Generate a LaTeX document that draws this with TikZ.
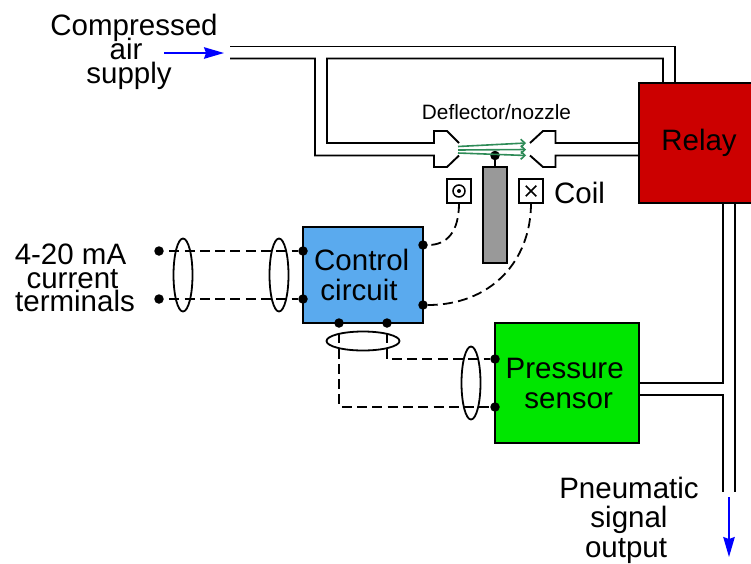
\documentclass[tikz,border=0pt]{standalone}
\usepackage{fontspec}
\setmainfont{Liberation Sans}
\usepackage{xcolor}
\usetikzlibrary{arrows.meta,shapes.geometric,shapes.misc}

\definecolor{relayred}{RGB}{204,0,0}
\definecolor{circuitblue}{RGB}{90,170,238}
\definecolor{sensorgreen}{RGB}{0,230,0}
\definecolor{jetgreen}{RGB}{46,139,87}

\newcommand{\tightlines}[1]{\fontsize{29.5}{#1}\selectfont\setlength{\lineskiplimit}{-50pt}}

\tikzset{
  pipe/.style={line width=1.9pt,line join=miter},
  block/.style={draw,line width=2.3pt,inner sep=0pt,align=center,font=\tightlines{30}},
  term/.style={circle,fill=black,inner sep=0pt,minimum size=9.5pt},
  wire/.style={line width=1.8pt,dash pattern=on 10pt off 5.3pt,dash phase=10pt},
  cable/.style={ellipse,draw,line width=1.8pt,inner sep=0pt,minimum width=19pt,minimum height=73pt},
  coilbox/.style={draw,line width=2.1pt,fill=white,minimum size=24pt,inner sep=0pt},
  bigtext/.style={align=center,inner sep=0pt,font=\tightlines{24.3}},
  flow/.style={blue,line width=1.5pt,-{Stealth[length=20pt,width=11.5pt,inset=2pt]}},
  jet/.style={jetgreen,line width=1.6pt,-{Straight Barb[length=4pt,width=8pt]}},
}

\begin{document}
\begin{tikzpicture}[x=1pt,y=-1pt]
    \useasboundingbox (0,0) rectangle (751,563);
    \clip (0,0) rectangle (751,563);

    % pipe ends
    \coordinate (supplyA) at (230,46.5);
    \coordinate (supplyB) at (230,58.5);
    \coordinate (relayA) at (675,83);
    \coordinate (relayB) at (663,83);
    \coordinate (nozzleLa) at (459,143);
    \coordinate (nozzleLb) at (459,155.5);
    \coordinate (nozzleRa) at (530,143);
    \coordinate (nozzleRb) at (530,155.5);
    \coordinate (relayC) at (639,143);
    \coordinate (relayD) at (639,155.5);
    \coordinate (outA) at (723,492);
    \coordinate (outB) at (735,492);

    % air lines
    \draw[pipe] (supplyA) -| (relayA);
    \draw[pipe] (supplyB) -- (315,58.5) -- (315,155.5) -- (434,155.5) -- (434,167) -- (447,167) -- (nozzleLb);
    \draw[pipe] (nozzleLa) -- (447,131) -- (434,131) -- (434,143) -- (327,143) -- (327,58.5) -| (relayB);
    \draw[pipe] (nozzleRa) -- (543,131) -- (555.5,131) -- (555.5,143) -- (relayC);
    \draw[pipe] (nozzleRb) -- (543,167) -- (555.5,167) -- (555.5,155.5) -- (relayD);

    % blocks
    \node[block,fill=relayred,minimum width=120pt,minimum height=120pt] (relay) at (699,143) {Relay};
    \node[block,fill=circuitblue,minimum width=120pt,minimum height=96pt] (control) at (363,275) {Control\kern2.6pt\\circuit\kern8pt};
    \node[block,fill=sensorgreen,minimum width=144pt,minimum height=120pt] (sensor) at (567,383) {Pressure\kern4.6pt\\\kern3.4pt sensor};

    % output lines
    \draw[pipe] (723,203) -- (723,383) -- (639,383);
    \draw[pipe] (639,395) -- (723,395) -- (outA);
    \draw[pipe] (735,203) -- (outB);

    % deflector
    \node[draw,line width=2.1pt,fill=black!40,minimum width=24pt,minimum height=96pt,inner sep=0pt] (rod) at (495,215) {};
    \node[term] (pivot) at (495,155.5) {};
    \draw[pipe] (pivot) -- (rod);
    \coordinate (jetA) at (458,146.5);
    \coordinate (jetB) at (458,150);
    \coordinate (jetC) at (458,153);
    \coordinate (tipA) at (526,143);
    \coordinate (tipB) at (526,149.5);
    \coordinate (tipC) at (526,155.5);
    \draw[jet] (jetA) -- (tipA);
    \draw[jet] (jetB) -- (tipB);
    \draw[jet] (jetC) -- (tipC);

    % coil
    \node[coilbox] (coilL) at (459,191) {};
    \node[coilbox] (coilR) at (531,191) {};
    \node[circle,draw,line width=1.5pt,minimum size=12pt,inner sep=0pt] (coilO) at (coilL) {};
    \node[circle,fill=black,minimum size=4pt,inner sep=0pt] (coilI) at (coilL) {};
    \node[cross out,draw,line width=1.5pt,minimum size=9pt,inner sep=0pt] (coilX) at (coilR) {};

    % terminals
    \node[term] (inA) at (159,251) {};
    \node[term] (inB) at (159,299) {};
    \node[term] (ctlA) at (303,251) {};
    \node[term] (ctlB) at (303,299) {};
    \node[term] (ctlC) at (423,245) {};
    \node[term] (ctlD) at (423,305) {};
    \node[term] (ctlE) at (339,323) {};
    \node[term] (ctlF) at (387,323) {};
    \node[term] (senA) at (495,359) {};
    \node[term] (senB) at (495,407) {};

    % signal wires
    \draw[wire] (inA) -- (ctlA);
    \draw[wire] (inB) -- (ctlB);
    \draw[wire] (ctlE) |- (senB);
    \draw[wire] (ctlF) |- (senA);
    \draw[wire,dash phase=0pt] (coilL) ++(0,12) .. controls (459,232) and (447,245) .. (ctlC);
    \draw[wire,dash phase=0pt] (coilR) ++(0,12) .. controls (531,262) and (490,305) .. (ctlD);

    % cable rings
    \node[cable] (ringA) at (183,275) {};
    \node[cable] (ringB) at (279,275) {};
    \node[cable] (ringC) at (471,383) {};
    \node[cable,minimum width=73pt,minimum height=19pt] (ringD) at (363,341) {};

    % flow arrows
    \coordinate (airA) at (164,53);
    \coordinate (airB) at (224,53);
    \coordinate (sigA) at (729,497);
    \coordinate (sigB) at (729,557);
    \draw[flow] (airA) -- (airB);
    \draw[flow] (sigA) -- (sigB);

    % labels
    \node[bigtext] (supplyText) at (134,52) {Compressed\\air\kern16pt\\supply\kern10pt};
    \node[bigtext,font=\tightlines{23.3}] (currentText) at (75,278) {4-20 mA\kern9pt\\current\kern5pt\\terminals};
    \node[bigtext,font=\tightlines{29.5}] (outputText) at (629,520) {Pneumatic\\signal\\output\kern6pt};
    \node[inner sep=0pt,font=\fontsize{20.8}{24}\selectfont] (deflectorText) at (496.5,112) {Deflector/nozzle};
    \node[inner sep=0pt,font=\tightlines{30}] (coilText) at (579.5,193) {Coil};
\end{tikzpicture}
\end{document}
